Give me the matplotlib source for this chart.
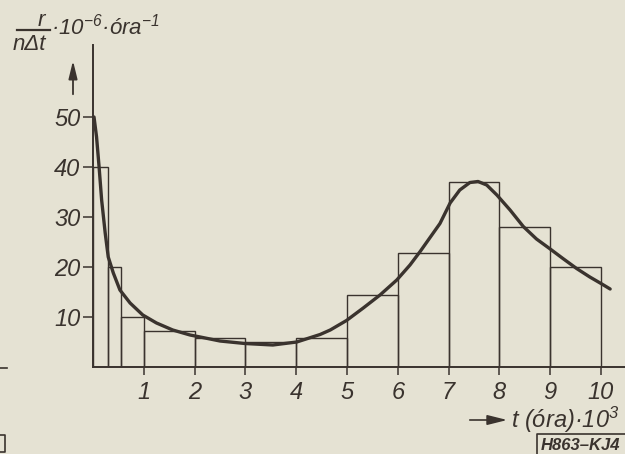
import matplotlib
matplotlib.use('Agg')
import matplotlib.pyplot as plt
from matplotlib import font_manager
from matplotlib.lines import Line2D

# histogram: failures per unit time in each interval (t in 10^3 hours)
bin_edges = [0, 0.3, 0.55, 1, 2, 3, 4, 5, 6, 7, 8, 9, 10]
bin_heights = [40, 20, 10, 7.2, 5.9, 5.0, 5.9, 14.5, 22.8, 37, 28, 20]

# smoothed failure-rate curve
curve_t = [0.02, 0.07, 0.12, 0.17, 0.24, 0.30, 0.40, 0.53, 0.73, 0.98,
           1.25, 1.57, 1.91, 2.11, 2.5, 2.99, 3.54, 4.01, 4.47, 4.67,
           4.99, 5.32, 5.65, 5.98, 6.24, 6.44, 6.6, 6.83, 7.03, 7.22,
           7.42, 7.58, 7.75, 7.95, 8.21, 8.47, 8.73, 9.0, 9.25, 9.52,
           9.78, 10.0, 10.18]
curve_r = [50, 46, 40, 33.4, 26.8, 22, 18.8, 15.4, 12.8, 10.4,
           8.8, 7.4, 6.4, 6.0, 5.2, 4.7, 4.4, 5.0, 6.5, 7.4,
           9.3, 11.8, 14.4, 17.4, 20.4, 23.1, 25.4, 28.7, 32.8, 35.4,
           36.9, 37.1, 36.4, 34.4, 31.4, 28.1, 25.6, 23.6, 21.7, 19.7,
           18.0, 16.7, 15.6]

x_ticks = [1, 2, 3, 4, 5, 6, 7, 8, 9, 10]
y_ticks = [10, 20, 30, 40, 50]

PAPER = '#e5e2d3'
INK = '#3a332e'
W, H = 625, 454

names = {f.name for f in font_manager.fontManager.ttflist}
if 'Liberation Sans Narrow' in names:
    FONT = 'Liberation Sans Narrow'
elif 'Liberation Sans' in names:
    FONT = 'Liberation Sans'
else:
    FONT = 'DejaVu Sans'
plt.rcParams['font.family'] = [FONT, 'DejaVu Sans']
plt.rcParams['font.style'] = 'italic'
plt.rcParams['mathtext.fontset'] = 'custom'
plt.rcParams['mathtext.rm'] = FONT + ':italic'
plt.rcParams['mathtext.it'] = FONT + ':italic'
plt.rcParams['mathtext.sf'] = FONT + ':italic'


def fx(x):
    return x / W


def fy(y):
    return 1 - y / H


fig = plt.figure(figsize=(W / 100, H / 100), dpi=100, facecolor=PAPER)
ax = fig.add_axes([fx(93), fy(367), (W - 93) / W, (367 - 45) / H])
ax.set_facecolor(PAPER)

widths = [b - a for a, b in zip(bin_edges[:-1], bin_edges[1:])]
ax.bar(bin_edges[:-1], bin_heights, width=widths, align='edge',
       fill=False, edgecolor=INK, linewidth=1.0)
ax.plot(curve_t, curve_r, color=INK, lw=2.4, solid_capstyle='round',
        solid_joinstyle='round', clip_on=False)

ax.set_xlim(0, (W - 93) / 50.8)
ax.set_ylim(0, (367 - 45) / 5.0)
for side in ['top', 'right']:
    ax.spines[side].set_visible(False)
for side in ['left', 'bottom']:
    ax.spines[side].set_color(INK)
    ax.spines[side].set_linewidth(1.4)

ax.set_xticks(x_ticks)
ax.set_xticklabels([str(v) for v in x_ticks])
ax.set_yticks(y_ticks)
ax.set_yticklabels([str(v) for v in y_ticks])
ax.tick_params(axis='x', direction='out', length=6, width=1.1, pad=4,
               labelsize=17, colors=INK)
ax.tick_params(axis='y', direction='out', length=7, width=1.1, pad=2,
               labelsize=17, colors=INK)

# y axis quantity: r / (n Δt) · 10^-6 · óra^-1
fig.text(fx(41), fy(20), 'r', fontsize=16, color=INK, ha='center', va='center')
fig.add_artist(Line2D([fx(17), fx(50)], [fy(30), fy(30)], color=INK, lw=1.6))
fig.text(fx(29), fy(45), 'nΔt', fontsize=16, color=INK, ha='center', va='center')
fig.text(fx(51), fy(35), '·10$^{-6}$·óra$^{-1}$', fontsize=16, color=INK,
         ha='left', va='baseline')
ax.annotate('', xy=(73, H - 58), xytext=(73, H - 97), xycoords='figure pixels',
            textcoords='figure pixels',
            arrowprops=dict(arrowstyle='-|>,head_length=0.9,head_width=0.22',
                            color=INK, lw=1.3, mutation_scale=12))

# x axis quantity
ax.annotate('', xy=(510, H - 420), xytext=(467, H - 420), xycoords='figure pixels',
            textcoords='figure pixels',
            arrowprops=dict(arrowstyle='-|>,head_length=1.0,head_width=0.25',
                            color=INK, lw=1.2, mutation_scale=12))
fig.text(fx(511), fy(420), 't (óra)·10$^{3}$', fontsize=17, color=INK,
         ha='left', va='center')

# figure code in the corner
fig.text(fx(541), fy(446), 'H863–KJ4', fontsize=12, color=INK, ha='left',
         va='center', fontweight='bold')
fig.add_artist(Line2D([fx(537), fx(537), fx(W)], [fy(H), fy(434), fy(434)],
                      color=INK, lw=1.2))

# page margin marks
fig.add_artist(Line2D([fx(0), fx(7)], [fy(368), fy(368)], color=INK, lw=1.2))
fig.add_artist(Line2D([fx(0), fx(5), fx(5), fx(0)],
                      [fy(435), fy(435), fy(452), fy(452)], color=INK, lw=1.2))

fig.savefig('out.png', dpi=100, facecolor=PAPER)
